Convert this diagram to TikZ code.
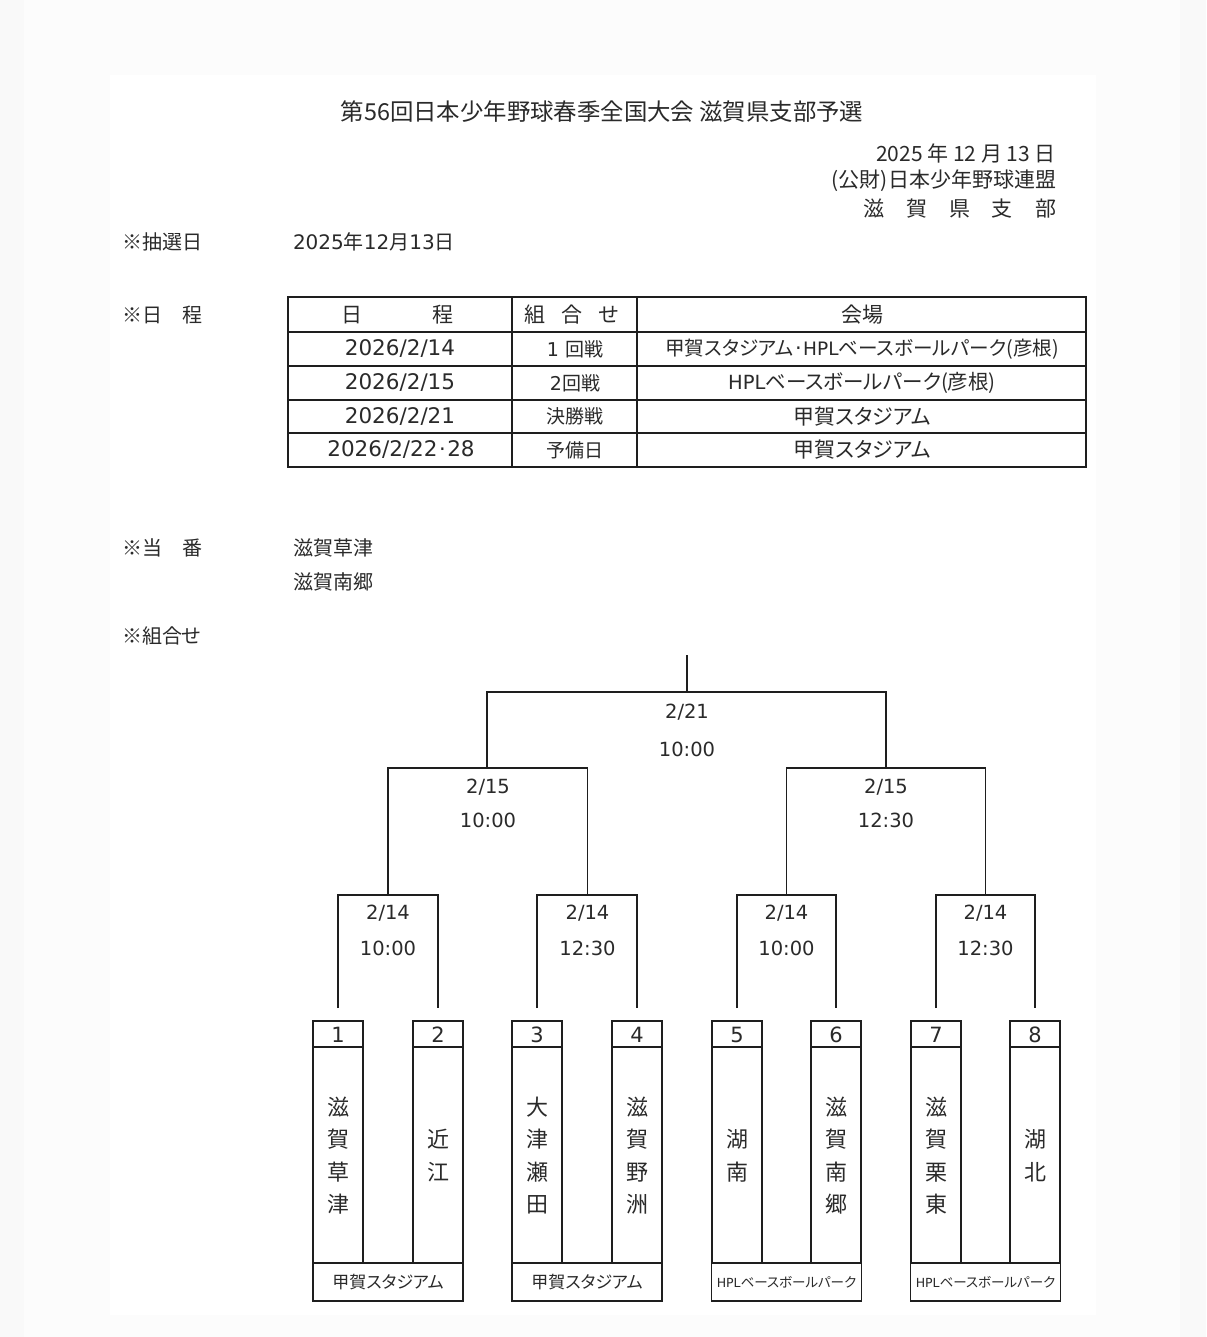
\documentclass[tikz,border=0pt]{standalone}
\usepackage{fontspec}
\setmainfont{Noto Sans CJK JP}[RawFeature={+palt}]
\newfontfamily\jfull{Noto Sans CJK JP}
\newfontfamily\lat{DejaVu Sans}
\newcommand\fsz[1]{\fontsize{#1}{#1}\selectfont}
\newcommand\mdot{\hspace{1.5pt}{\lat\fsz{21}·}\hspace{1.5pt}}
\definecolor{ink}{HTML}{2A2A2A}
\definecolor{edge}{HTML}{1E1E1E}
\begin{document}
\begin{tikzpicture}[x=1pt,y=-1pt,
  ln/.style={line width=1.9pt, draw=edge},
  tbl/.style={line width=1.8pt, draw=edge},
  txt/.style={text=ink, inner sep=0pt, outer sep=0pt},
  lbl/.style={txt, anchor=west, font=\fsz{20}},
  cell/.style={txt, font=\fsz{21}},
  match/.style={txt, font=\lat\fsz{19.5}},
  team/.style={draw=edge, line width=1.9pt, minimum width=50pt, minimum height=242pt, inner sep=0pt, outer sep=0pt},
  venue/.style={draw=edge, line width=1.9pt, minimum width=150pt, minimum height=38pt, inner sep=0pt, outer sep=0pt, text=ink},
  num/.style={txt, font=\lat\fsz{21}},
  tname/.style={txt, align=center, font=\fontsize{22}{32.5}\selectfont},
]
\useasboundingbox (0,0) rectangle (1206,1337);
\fill[black!2.5] (0,0) rectangle (1206,1337);
\fill[black!1] (24,0) rectangle (1180,1337);
\fill[white] (110,75) rectangle (1096,1315);

% header
\node[txt, font=\fsz{23.4}] (title) at (602,112) {第56回日本少年野球春季全国大会 滋賀県支部予選};
\node[txt, anchor=east, font=\fsz{21}] (issue) at (1056,153) {2025 年 12 月 13 日};
\node[txt, anchor=east, font=\fsz{21}] (org) at (1056,181) {(公財)日本少年野球連盟};
\node[txt, anchor=east, font=\fsz{21}] (branch) at (1056,209) {滋\hspace{22pt}賀\hspace{22pt}県\hspace{22pt}支\hspace{22pt}部};

% left labels
\node[lbl] (l1) at (122,242) {※抽選日};
\node[lbl] (d1) at (293,242) {{\lat 2025}年{\lat 12}月{\lat 13}日};
\node[lbl] (l2) at (122,315) {※日\hspace{20pt}程};
\node[lbl] (l3) at (122,548) {※当\hspace{20pt}番};
\node[lbl] (d3a) at (293,548) {滋賀草津};
\node[lbl] (d3b) at (293,582) {滋賀南郷};
\node[lbl] (l4) at (122,636) {※組合せ};

% schedule table
\draw[tbl] (288,297) rectangle (1086,467);
\foreach \yy in {332,366,400,433} \draw[tbl] (288,\yy) -- (1086,\yy);
\foreach \xx in {512,637} \draw[tbl] (\xx,297) -- (\xx,467);
\node[cell] (h1) at (397,314.5) {日\hspace{70pt}程};
\node[cell] (h2) at (572,314.5) {組\hspace{16pt}合\hspace{16pt}せ};
\node[cell] (h3) at (862,314.5) {会場};
\node[cell, font=\lat\fsz{21.5}] (r1a) at (400,349) {2026/2/14};
\node[cell, font=\fsz{19}] (r1b) at (575,349) {{\lat 1}\hspace{6pt}回戦};
\node[cell, font=\fsz{19.6}] (r1c) at (862,349) {甲賀スタジアム\mdot{\lat\fsz{18.5}HPL}ベースボールパーク(彦根)};
\node[cell, font=\lat\fsz{21.5}] (r2a) at (400,383) {2026/2/15};
\node[cell, font=\fsz{19}] (r2b) at (575,383) {{\lat 2}回戦};
\node[cell, font=\fsz{20.5}] (r2c) at (862,383) {{\lat\fsz{19.5}HPL}ベースボールパーク(彦根)};
\node[cell, font=\lat\fsz{21.5}] (r3a) at (400,416.5) {2026/2/21};
\node[cell, font=\fsz{19}] (r3b) at (575,416.5) {決勝戦};
\node[cell] (r3c) at (862,416.5) {甲賀スタジアム};
\node[cell, font=\lat\fsz{21.5}] (r4a) at (401,450) {2026/2/22\mdot 28};
\node[cell, font=\fsz{19}] (r4b) at (575,450) {予備日};
\node[cell] (r4c) at (862,450) {甲賀スタジアム};

% bracket junctions
\coordinate (top) at (687,655);
\coordinate (F) at (687,692);
\coordinate (S1) at (487,768);
\coordinate (S2) at (886,768);
\coordinate (Q1) at (388,895);
\coordinate (Q2) at (587.5,895);
\coordinate (Q3) at (786.5,895);
\coordinate (Q4) at (985.5,895);

% team boxes
\foreach \n/\xx in {1/338,2/438,3/537,4/637,5/737,6/836,7/936,8/1035}{
  \node[team] (T\n) at (\xx,1142) {};
  \draw[ln] ([yshift=-26pt]T\n.north west) -- ([yshift=-26pt]T\n.north east);
  \node[num] (N\n) at ([yshift=-13.5pt]T\n.north) {\n};
  \coordinate (E\n) at ([yshift=13pt]T\n.north);
}
\node[tname] (n1) at (338,1155.5) {滋\\賀\\草\\津};
\node[tname] (n2) at (438,1155.5) {近\\江};
\node[tname] (n3) at (537,1155.5) {大\\津\\瀬\\田};
\node[tname] (n4) at (637,1155.5) {滋\\賀\\野\\洲};
\node[tname] (n5) at (737,1155.5) {湖\\南};
\node[tname] (n6) at (836,1155.5) {滋\\賀\\南\\郷};
\node[tname] (n7) at (936,1155.5) {滋\\賀\\栗\\東};
\node[tname] (n8) at (1035,1155.5) {湖\\北};

\node[venue, font=\fsz{17}] (V1) at (388,1282) {甲賀スタジアム};
\node[venue, font=\fsz{17}] (V2) at (587,1282) {甲賀スタジアム};
\node[venue, font=\fsz{13.5}] (V3) at (786.5,1282) {{\lat\fsz{12.5}HPL}ベースボールパーク};
\node[venue, font=\fsz{13.5}] (V4) at (985.5,1282) {{\lat\fsz{12.5}HPL}ベースボールパーク};

% connectors
\draw[ln] (top) -- (F);
\draw[ln] (S1) |- (F) -| (S2);
\draw[ln] (Q1) |- (S1) -| (Q2);
\draw[ln] (Q3) |- (S2) -| (Q4);
\draw[ln] (E1) |- (Q1) -| (E2);
\draw[ln] (E3) |- (Q2) -| (E4);
\draw[ln] (E5) |- (Q3) -| (E6);
\draw[ln] (E7) |- (Q4) -| (E8);

% match labels
\node[match] (mF1) at (687,712) {2/21};
\node[match] (mF2) at (687,749) {10:00};
\node[match] (mS1a) at (488,787) {2/15};
\node[match] (mS1b) at (488,820) {10:00};
\node[match] (mS2a) at (886,787) {2/15};
\node[match] (mS2b) at (886,820) {12:30};
\node[match] (mQ1a) at (388,913) {2/14};
\node[match] (mQ1b) at (388,948) {10:00};
\node[match] (mQ2a) at (587.5,913) {2/14};
\node[match] (mQ2b) at (587.5,948) {12:30};
\node[match] (mQ3a) at (786.5,913) {2/14};
\node[match] (mQ3b) at (786.5,948) {10:00};
\node[match] (mQ4a) at (985.5,913) {2/14};
\node[match] (mQ4b) at (985.5,948) {12:30};
\end{tikzpicture}
\end{document}
